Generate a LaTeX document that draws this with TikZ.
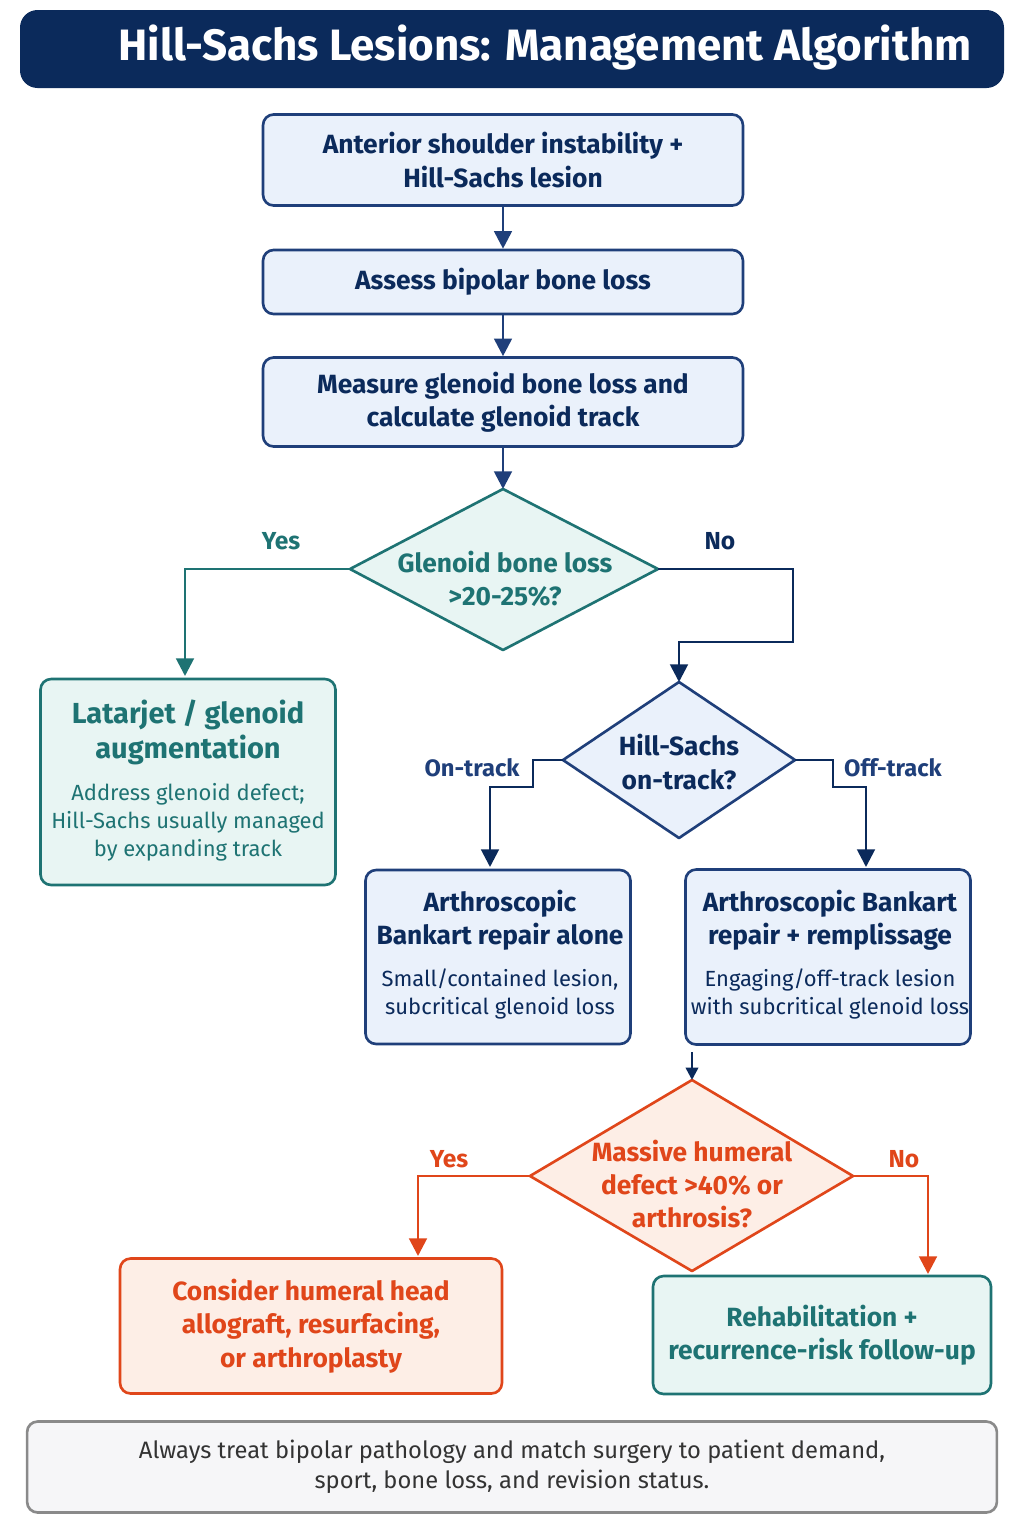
\documentclass[tikz,border=0pt]{standalone}
\usepackage{fontspec}
\setmainfont{Fira Sans}
\usetikzlibrary{shapes.geometric,arrows.meta}
\definecolor{navy}{HTML}{0B2A5B}
\definecolor{nb}{HTML}{1F3F7A}
\definecolor{nfill}{HTML}{EAF1FB}
\definecolor{teal}{HTML}{1E7373}
\definecolor{tfill}{HTML}{E8F5F3}
\definecolor{org}{HTML}{E0461A}
\definecolor{ofill}{HTML}{FDEEE6}
\definecolor{gb}{HTML}{8A8A8A}
\definecolor{gfill}{HTML}{F6F6F8}
\tikzset{
 base/.style={draw,line width=1.5pt,rounded corners=6pt,align=center,inner sep=2pt},
 nbox/.style={base,draw=nb,fill=nfill,text=navy,font=\fontsize{15}{19}\selectfont\bfseries},
 tbox/.style={base,draw=teal,fill=tfill,text=teal,font=\fontsize{15}{19}\selectfont\bfseries},
 obox/.style={base,draw=org,fill=ofill,text=org,font=\fontsize{15}{19}\selectfont\bfseries},
 dtxt/.style={align=center,font=\fontsize{15}{19}\selectfont\bfseries},
 arr/.style={line width=1.6pt,-{Triangle[length=10pt,width=10pt]}},
 lab/.style={font=\fontsize{14}{17}\selectfont\bfseries},
 sub/.style={font=\fontsize{12.5}{16}\selectfont},
}
\begin{document}
\begin{tikzpicture}[x=0.02cm,y=-0.02cm]
\useasboundingbox (0,0) rectangle (1024,1536);
\fill[white] (0,0) rectangle (1024,1536);
\fill[navy,rounded corners=10pt] (20,10) rectangle (1004,88);
\node[text=white,font=\fontsize{25}{30}\selectfont\bfseries] (title) at (545,48) {Hill-Sachs Lesions: Management Algorithm};
\node[nbox,minimum width=9.6cm,minimum height=1.82cm] (b1) at (503,160) {Anterior shoulder instability +\\Hill-Sachs lesion};
\node[nbox,minimum width=9.6cm,minimum height=1.28cm] (b2) at (503,282) {Assess bipolar bone loss};
\node[nbox,minimum width=9.6cm,minimum height=1.78cm] (b3) at (503,402) {Measure glenoid bone loss and\\calculate glenoid track};
\coordinate (d1n) at (503,489); \coordinate (d1s) at (503,650);
\coordinate (d1w) at (350,569); \coordinate (d1e) at (658,569);
\draw[teal,fill=tfill,line width=1.5pt,line join=round] (d1n) -- (d1e) -- (d1s) -- (d1w) -- cycle;
\node[dtxt,text=teal] (d1) at (505,579) {Glenoid bone loss\\>20-25\%?};
\node[tbox,minimum width=5.9cm,minimum height=4.12cm] (lat) at (188,782) {};
\node[text=teal,align=center,font=\fontsize{16.5}{20}\selectfont\bfseries] (latt) at (188,732) {Latarjet / glenoid\\augmentation};
\node[text=teal,align=center,sub] (lats) at (188,822) {Address glenoid defect;\\Hill-Sachs usually managed\\by expanding track};
\coordinate (d2n) at (679,682); \coordinate (d2s) at (679,838);
\coordinate (d2w) at (563,760); \coordinate (d2e) at (795,760);
\draw[nb,fill=nfill,line width=1.5pt,line join=round] (d2n) -- (d2e) -- (d2s) -- (d2w) -- cycle;
\node[dtxt,text=navy] (d2) at (679,762) {Hill-Sachs\\on-track?};
\node[nbox,minimum width=5.3cm,minimum height=3.48cm] (ba) at (498,957) {};
\node[text=navy,align=center,font=\fontsize{15}{19}\selectfont\bfseries] (bat) at (500,920) {Arthroscopic\\Bankart repair alone};
\node[text=navy,align=center,sub] (bas) at (500,994) {Small/contained lesion,\\subcritical glenoid loss};
\node[nbox,minimum width=5.7cm,minimum height=3.5cm] (br) at (828,957) {};
\node[text=navy,align=center,font=\fontsize{15}{19}\selectfont\bfseries] (brt) at (830,920) {Arthroscopic Bankart\\repair + remplissage};
\node[text=navy,align=center,sub] (brs) at (830,994) {Engaging/off-track lesion\\with subcritical glenoid loss};
\coordinate (d3n) at (692,1080); \coordinate (d3s) at (692,1271);
\coordinate (d3w) at (530,1176); \coordinate (d3e) at (853,1176);
\draw[org,fill=ofill,line width=1.5pt,line join=round] (d3n) -- (d3e) -- (d3s) -- (d3w) -- cycle;
\node[dtxt,text=org] (d3) at (692,1184) {Massive humeral\\defect >40\% or\\arthrosis?};
\node[obox,minimum width=7.64cm,minimum height=2.7cm] (hum) at (311,1326) {Consider humeral head\\allograft, resurfacing,\\or arthroplasty};
\node[tbox,minimum width=6.76cm,minimum height=2.36cm] (reh) at (822,1335) {Rehabilitation +\\recurrence-risk follow-up};
\node[base,draw=gb,fill=gfill,text=black!80,font=\fontsize{13.5}{17}\selectfont,minimum width=19.4cm,minimum height=1.82cm] (foot) at (512,1467) {Always treat bipolar pathology and match surgery to patient demand,\\sport, bone loss, and revision status.};
\draw[arr,nb] (b1) -- (b2);
\draw[arr,nb] (b2) -- (b3);
\draw[arr,nb] (b3) -- (d1n);
\draw[arr,teal] (d1w) -- (185,569) -- (185,676);
\node[lab,text=teal] at (281,541) {Yes};
\draw[arr,navy] (d1e) -- (793,569) -- (793,642) -- (679,642) -- (d2n);
\node[lab,text=navy] at (720,541) {No};
\draw[arr,navy] (d2w) -- (533,760) -- (533,787) -- (490,787) -- (490,867);
\node[text=nb,font=\fontsize{13.5}{16}\selectfont\bfseries] at (472,768) {On-track};
\draw[arr,navy] (d2e) -- (833,760) -- (833,787) -- (866,787) -- (866,867);
\node[text=nb,font=\fontsize{13.5}{16}\selectfont\bfseries] at (893,768) {Off-track};
\coordinate (s3) at (692,1052);
\draw[navy,line width=1.4pt,-{Triangle[length=7pt,width=7pt]}] (s3) -- (d3n);
\draw[arr,org] (d3w) -- (418,1176) -- (418,1256);
\node[lab,text=org] at (449,1159) {Yes};
\draw[arr,org] (d3e) -- (928,1176) -- (928,1274);
\node[lab,text=org] at (904,1159) {No};
\end{tikzpicture}
\end{document}
